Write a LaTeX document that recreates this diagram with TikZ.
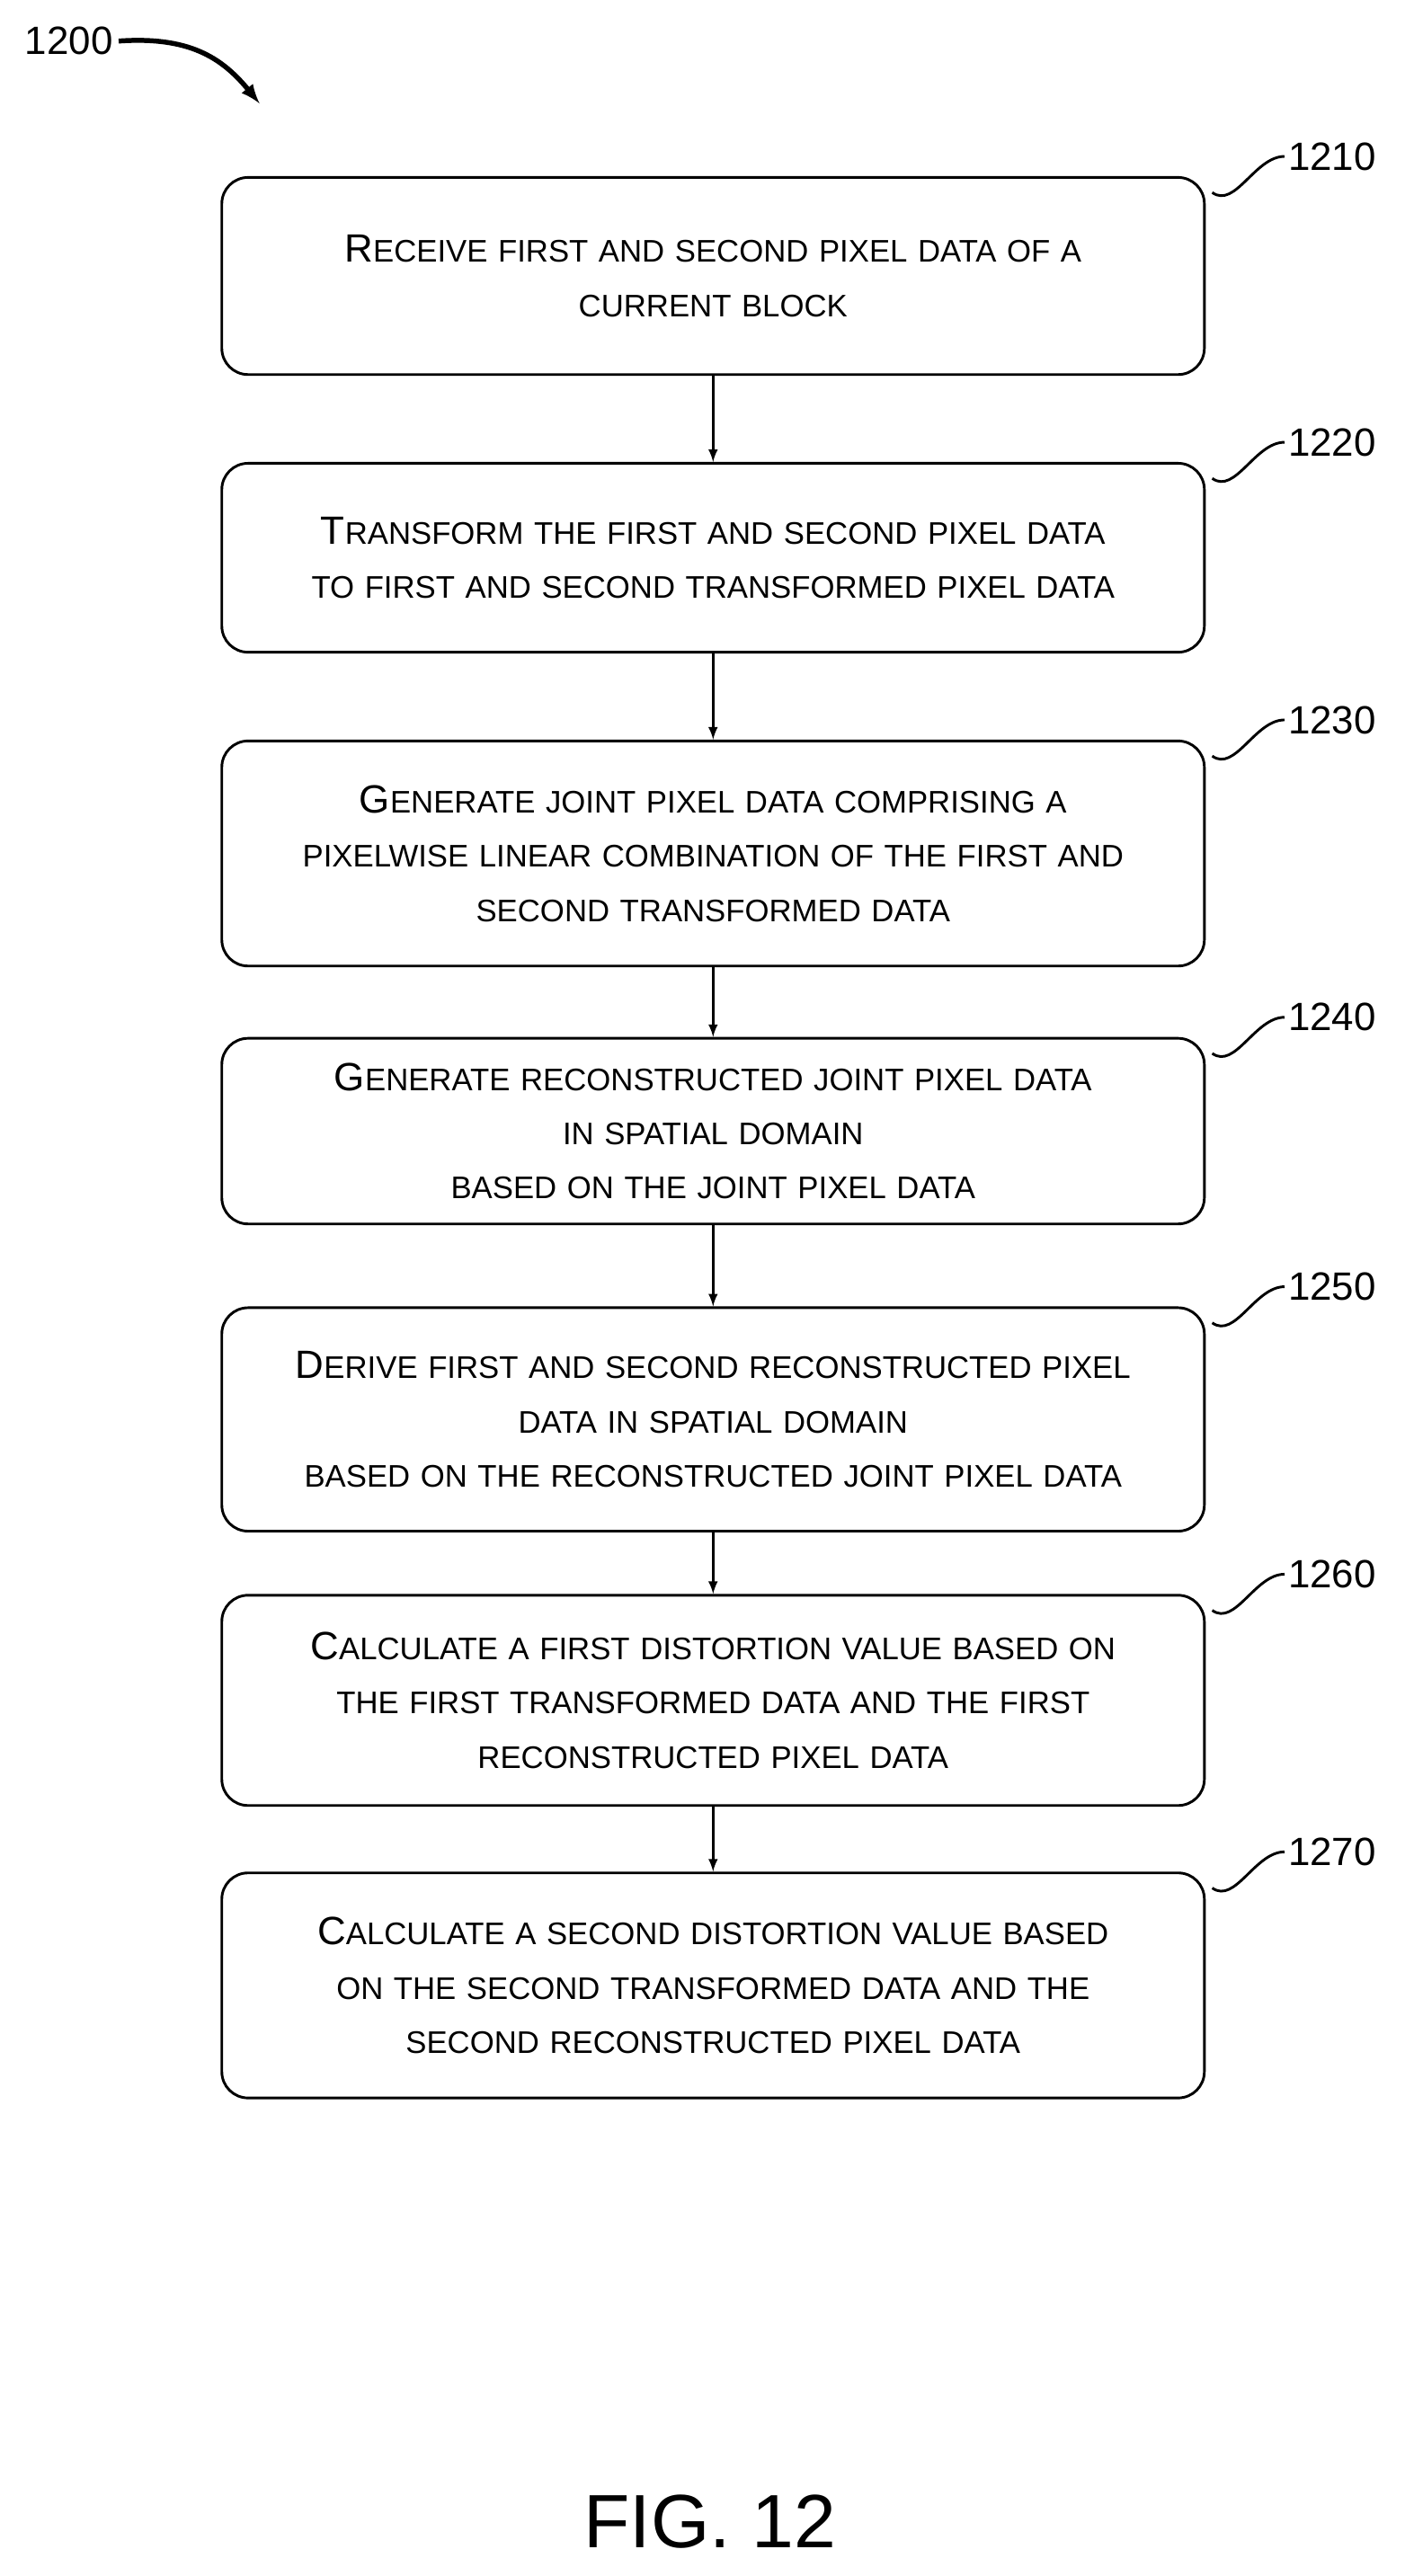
\documentclass[tikz,border=0pt]{standalone}
\usepackage{fontspec}
\setmainfont{Liberation Sans}
\newcommand{\capsc}[2]{{\fontsize{24}{28}\selectfont #1}{\fontsize{19}{28}\selectfont #2}}
\newcommand{\smc}[1]{{\fontsize{19}{28}\selectfont #1}}
\begin{document}
\begin{tikzpicture}[x=1pt, y=-1pt,
    stepbox/.style={draw, line width=1.6pt, rounded corners=16pt, minimum width=598pt,
        align=center, text width=590pt, inner sep=0pt, font=\fontsize{19}{33}\selectfont},
    flow/.style={-latex, line width=1.6pt},
    callout/.style={line width=1.6pt}]
    \useasboundingbox (0,0) rectangle (855,1568);

    % Steps
    \node[stepbox, minimum height=120pt] (s1) at (434,168) {\capsc{R}{ECEIVE FIRST AND SECOND PIXEL DATA OF A}\\\smc{CURRENT BLOCK}};
    \node[stepbox, minimum height=115pt] (s2) at (434,339.5) {\capsc{T}{RANSFORM THE FIRST AND SECOND PIXEL DATA}\\\smc{TO FIRST AND SECOND TRANSFORMED PIXEL DATA}};
    \node[stepbox, minimum height=137pt] (s3) at (434,519.5) {\capsc{G}{ENERATE JOINT PIXEL DATA COMPRISING A}\\\smc{PIXELWISE LINEAR COMBINATION OF THE FIRST AND}\\\smc{SECOND TRANSFORMED DATA}};
    \node[stepbox, minimum height=113pt] (s4) at (434,688.5) {\capsc{G}{ENERATE RECONSTRUCTED JOINT PIXEL DATA}\\\smc{IN SPATIAL DOMAIN}\\\smc{BASED ON THE JOINT PIXEL DATA}};
    \node[stepbox, minimum height=136pt] (s5) at (434,864) {\capsc{D}{ERIVE FIRST AND SECOND RECONSTRUCTED PIXEL}\\\smc{DATA IN SPATIAL DOMAIN}\\\smc{BASED ON THE RECONSTRUCTED JOINT PIXEL DATA}};
    \node[stepbox, minimum height=128pt] (s6) at (434,1035) {\capsc{C}{ALCULATE A FIRST DISTORTION VALUE BASED ON}\\\smc{THE FIRST TRANSFORMED DATA AND THE FIRST}\\\smc{RECONSTRUCTED PIXEL DATA}};
    \node[stepbox, minimum height=137pt] (s7) at (434,1208.5) {\capsc{C}{ALCULATE A SECOND DISTORTION VALUE BASED}\\\smc{ON THE SECOND TRANSFORMED DATA AND THE}\\\smc{SECOND RECONSTRUCTED PIXEL DATA}};

    % Arrows
    \foreach \a/\b in {s1/s2, s2/s3, s3/s4, s4/s5, s5/s6, s6/s7}
        \draw[flow] (\a.south) -- (\b.north);

    % Callouts
    \foreach \s/\n in {s1/1210, s2/1220, s3/1230, s4/1240, s5/1250, s6/1260, s7/1270} {
        \coordinate (\s c) at ([xshift=4pt, yshift=-10pt]\s.north east);
        \coordinate (\s e) at ([xshift=48pt, yshift=12pt]\s.north east);
        \draw[callout] (\s c) .. controls ([xshift=14pt, yshift=-10pt]\s c) and ([xshift=-18pt]\s e) .. (\s e);
        \node[anchor=west, inner sep=2pt, font=\fontsize{24}{28}\selectfont] (\s l) at (\s e) {\n};
    }

    % Figure number
    \node[font=\fontsize{24}{28}\selectfont] (fig) at (42,25) {1200};
    \coordinate (figend) at (158,63);
    \draw[-latex, line width=3pt] (fig.east) .. controls (115,22) and (135,35) .. (figend);
    \node[font=\fontsize{46}{50}\selectfont] (cap) at (432,1535) {FIG. 12};
\end{tikzpicture}
\end{document}
